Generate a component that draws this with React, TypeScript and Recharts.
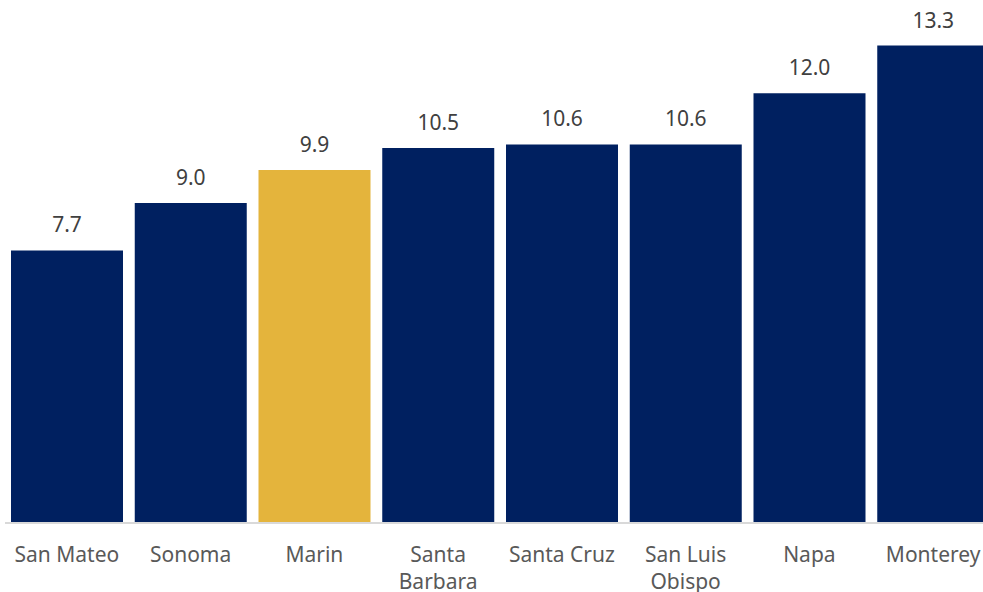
import React from "react";
import { BarChart, Bar, XAxis, YAxis, Cell, LabelList } from "recharts";

const counties = ["San Mateo", "Sonoma", "Marin", "Santa Barbara", "Santa Cruz", "San Luis Obispo", "Napa", "Monterey"];
const rates = [7.7, 9.0, 9.9, 10.5, 10.6, 10.6, 12.0, 13.3];
const highlight = "Marin";

const navy = "#002060";
const gold = "#E4B43C";
const font = "'Noto Sans', sans-serif";

const data = counties.map((name, i) => ({ name, value: rates[i] }));

// long names go on two lines, broken before the last word
const splitName = (s: string) => {
  if (s.length <= 11) return [s];
  const i = s.lastIndexOf(" ");
  return [s.slice(0, i), s.slice(i + 1)];
};

const CountyTick: React.FC<any> = ({ x, y, payload }) => {
  const lines = splitName(String(payload.value));
  return (
    <text x={x} y={y + 31} textAnchor="middle" fill="#595959" style={{ fontFamily: font, fontSize: 21 }}>
      {lines.map((l, i) => (
        <tspan key={i} x={x} dy={i === 0 ? 0 : 27}>
          {l}
        </tspan>
      ))}
    </text>
  );
};

export default function App() {
  return (
    <div style={{ position: "absolute", left: 0, top: 0, width: 983, height: 592, overflow: "hidden", background: "#fff" }}>
      <BarChart
        width={1000}
        height={592}
        data={data}
        margin={{ top: 20, right: 5, left: 5, bottom: 0 }}
        barCategoryGap={6}
      >
        <XAxis
          dataKey="name"
          interval={0}
          tickLine={false}
          axisLine={{ stroke: "#D9D9D9", strokeWidth: 2 }}
          height={69}
          tick={<CountyTick />}
        />
        <YAxis hide domain={[0.25, 14]} allowDataOverflow />
        <Bar dataKey="value" isAnimationActive={false}>
          {data.map((d) => (
            <Cell key={d.name} fill={d.name === highlight ? gold : navy} />
          ))}
          <LabelList
            dataKey="value"
            position="top"
            offset={18}
            formatter={(v: any) => Number(v).toFixed(1)}
            fill="#404040"
            style={{ fontFamily: font, fontSize: 21 }}
          />
        </Bar>
      </BarChart>
    </div>
  );
}
